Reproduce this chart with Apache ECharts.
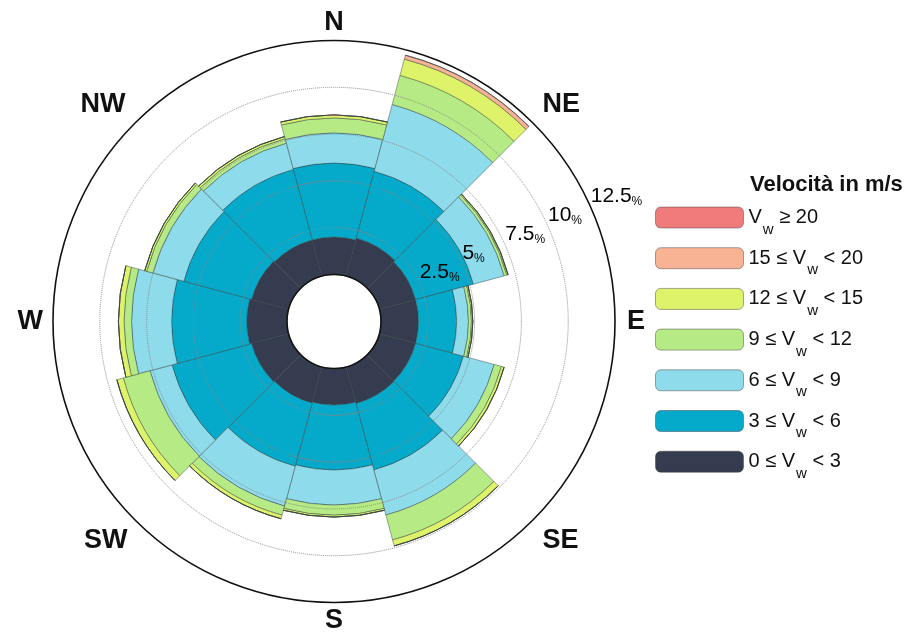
<!DOCTYPE html>
<html>
<head>
<meta charset="utf-8">
<script src="https://cdn.jsdelivr.net/npm/echarts@6/dist/echarts.min.js"></script>
<style>
  html, body { margin: 0; padding: 0; background: #fff; }
  #chart { width: 915px; height: 637px; }
</style>
</head>
<body>
<div id="chart"></div>
<script>
// Twelve 30° direction sectors, clockwise from north
const sectors = ['0', '30', '60', '90', '120', '150', '180', '210', '240', '270', '300', '330'];

// Frequency (%) of each speed class per sector
const v0to3   = [2.00, 2.10, 2.00, 2.00, 2.00, 2.02, 1.95, 2.00, 2.05, 2.15, 2.05, 2.00];
const v3to6   = [3.95, 3.70, 3.20, 2.04, 2.65, 3.68, 3.47, 3.50, 4.40, 4.01, 3.75, 3.90];
const v6to9   = [1.61, 3.69, 1.70, 0.63, 1.70, 2.49, 1.87, 2.20, 1.22, 2.14, 1.70, 1.45];
const v9to12  = [0.80, 1.61, 0.15, 0.16, 0.40, 1.38, 0.54, 0.50, 1.47, 0.40, 0.35, 0.25];
const v12to15 = [0.16, 0.90, 0.07, 0.07, 0.15, 0.33, 0.10, 0.20, 0.36, 0.30, 0.11, 0.12];
const v15to20 = [0.00, 0.22, 0.00, 0.00, 0.00, 0.00, 0.00, 0.00, 0.00, 0.00, 0.00, 0.00];
const v20up   = [0.00, 0.00, 0.00, 0.00, 0.00, 0.00, 0.00, 0.00, 0.00, 0.00, 0.00, 0.00];

// Compass labels on the outer ring (degrees clockwise from north)
const compass = { 0: 'N', 45: 'NE', 90: 'E', 135: 'SE', 180: 'S', 225: 'SW', 270: 'W', 315: 'NW' };

// Frequency rings and the bearing along which they are labelled
const ringTicks = [2.5, 5, 7.5, 10, 12.5];
const ringLabelBearing = 66;

const classes = [
  { name: 'c0', label: '{t|0 ≤ V}{s|w}{t| < 3}',    color: '#363c4f', data: v0to3 },
  { name: 'c1', label: '{t|3 ≤ V}{s|w}{t| < 6}',    color: '#05a9c9', data: v3to6 },
  { name: 'c2', label: '{t|6 ≤ V}{s|w}{t| < 9}',    color: '#8edbeb', data: v6to9 },
  { name: 'c3', label: '{t|9 ≤ V}{s|w}{t| < 12}',   color: '#b6ea84', data: v9to12 },
  { name: 'c4', label: '{t|12 ≤ V}{s|w}{t| < 15}',  color: '#def26a', data: v12to15 },
  { name: 'c5', label: '{t|15 ≤ V}{s|w}{t| < 20}',  color: '#f8b294', data: v15to20 },
  { name: 'c6', label: '{t|V}{s|w}{t| ≥ 20}',       color: '#f07b7b', data: v20up }
];
const labelByName = {};
classes.forEach(c => { labelByName[c.name] = c.label; });

const FONT = '"Liberation Sans", Arial, sans-serif';
const CENTER = [334, 321.5];
const RADIUS = [47, 281];

// Compass label styles: each one nudged off the ring by its own padding
const dirStyle = (pad) => ({
  fontFamily: FONT, fontSize: 27, fontWeight: 'bold', color: '#111', padding: pad
});
const dirRich = {
  N:  dirStyle([0, 0, 0, 0]),
  NE: dirStyle([0, 0, 2, 7]),
  E:  dirStyle([0, 0, 0, 8]),
  SE: dirStyle([4, 0, 0, 7]),
  S:  dirStyle([1, 0, 0, 0]),
  SW: dirStyle([4, 5, 0, 0]),
  W:  dirStyle([0, 6, 0, 0]),
  NW: dirStyle([0, 7, 2, 0])
};

const chart = echarts.init(document.getElementById('chart'), null, { renderer: 'canvas' });

const barSeries = classes.map(c => ({
  type: 'bar',
  name: c.name,
  coordinateSystem: 'polar',
  polarIndex: 0,
  stack: 'speed',
  barCategoryGap: '0%',
  data: c.data,
  itemStyle: { color: c.color, borderColor: 'rgba(45,60,60,0.55)', borderWidth: 0.8 },
  emphasis: { disabled: true }
}));

chart.setOption({
  animation: false,
  title: {
    text: 'Velocità in m/s',
    left: 745,
    top: 169,
    textStyle: { fontFamily: FONT, fontSize: 22, fontWeight: 'bold', color: '#111' }
  },
  legend: {
    orient: 'vertical',
    left: 650,
    top: 193,
    itemWidth: 88,
    itemHeight: 21,
    itemGap: 1.7,
    data: classes.slice().reverse().map(c => c.name),
    formatter: name => labelByName[name],
    textStyle: {
      fontFamily: FONT,
      color: '#111',
      rich: {
        t: { fontFamily: FONT, fontSize: 20, lineHeight: 22, color: '#111' },
        s: { fontFamily: FONT, fontSize: 15, lineHeight: 15, padding: [24, 0, 0, 1], color: '#111' }
      }
    },
    itemStyle: { borderColor: 'rgba(60,60,60,0.45)', borderWidth: 1 },
    selectedMode: false
  },
  polar: [
    { center: CENTER, radius: RADIUS },
    { center: CENTER, radius: RADIUS }
  ],
  angleAxis: [
    {
      polarIndex: 0,
      type: 'category',
      data: sectors,
      startAngle: 105,
      clockwise: true,
      boundaryGap: true,
      axisLine: { show: false },
      axisTick: { show: false },
      axisLabel: { show: false },
      splitLine: { show: false }
    },
    {
      polarIndex: 1,
      type: 'value',
      min: 0,
      max: 360,
      interval: 45,
      startAngle: 90,
      clockwise: true,
      z: 5,
      axisLine: { show: true, lineStyle: { color: '#111', width: 1.6 } },
      axisTick: { show: false },
      splitLine: { show: false },
      axisLabel: {
        margin: 4,
        color: '#111',
        formatter: v => compass[v] ? '{' + compass[v] + '|' + compass[v] + '}' : '',
        rich: dirRich
      }
    }
  ],
  radiusAxis: [
    {
      polarIndex: 0,
      type: 'value',
      min: 0,
      max: 12.5,
      interval: 2.5,
      z: 10,
      axisLine: { show: false },
      axisTick: { show: false },
      axisLabel: { show: false },
      splitLine: {
        show: true,
        lineStyle: {
          color: ['rgba(0,0,0,0)', '#8a8a8a', '#8a8a8a', '#8a8a8a', '#8a8a8a', 'rgba(0,0,0,0)'],
          width: 1,
          type: 'dotted'
        }
      }
    },
    {
      polarIndex: 1,
      type: 'value',
      min: 0,
      max: 12.5,
      axisLine: { show: false },
      axisTick: { show: false },
      axisLabel: { show: false },
      splitLine: { show: false }
    }
  ],
  series: barSeries.concat([{
    type: 'scatter',
    coordinateSystem: 'polar',
    polarIndex: 1,
    symbolSize: 0,
    z: 20,
    silent: true,
    itemStyle: { opacity: 1 },
    data: ringTicks.map(v => [v, ringLabelBearing]),
    label: {
      show: true,
      position: [0, 0],
      align: 'left',
      verticalAlign: 'bottom',
      color: '#000',
      opacity: 1,
      formatter: p => '{n|' + p.value[0] + '}{p|%}',
      rich: {
        n: { fontFamily: FONT, fontSize: 21, lineHeight: 22, color: '#000' },
        p: { fontFamily: FONT, fontSize: 12, lineHeight: 12, verticalAlign: 'bottom', color: '#000' }
      }
    }
  }])
});
</script>
</body>
</html>
